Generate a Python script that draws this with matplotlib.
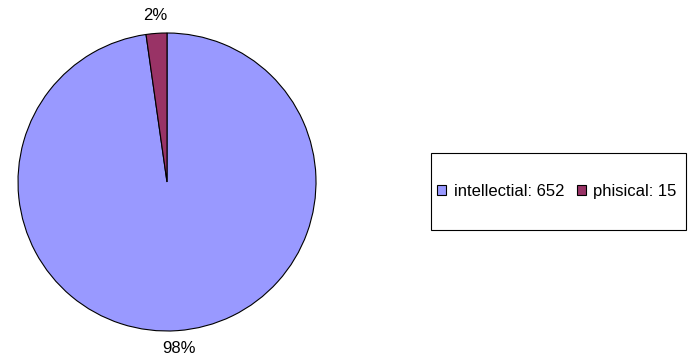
import matplotlib.pyplot as plt
from matplotlib.patches import Rectangle

labels = ['intellectial', 'phisical']
counts = [652, 15]
colors = ['#9999FF', '#993366']

plt.rcParams['font.family'] = ['Liberation Sans', 'DejaVu Sans']

W, H = 689, 359
fig = plt.figure(figsize=(W / 100, H / 100), dpi=100)

# pie axes: centre (167, 182) px, radius 149 px
cx, cy, r = 167, 182, 149
ax = fig.add_axes([(cx - r) / W, (H - cy - r) / H, 2 * r / W, 2 * r / H])
wedges, texts, autotexts = ax.pie(
    counts, colors=colors, startangle=90, counterclock=False,
    autopct='%1.0f%%', pctdistance=1.12, radius=1,
    wedgeprops=dict(edgecolor='black', linewidth=0.8),
    textprops=dict(fontsize=12, color='black'))
ax.set_xlim(-1, 1)
ax.set_ylim(-1, 1)
ax.set_aspect('equal')
ax.axis('off')

# legend frame
x0, x1, y0, y1 = 431, 686, 153, 230
fig.patches.append(Rectangle((x0 / W, (H - y1) / H), (x1 - x0) / W, (y1 - y0) / H,
                             transform=fig.transFigure, facecolor='white',
                             edgecolor='black', linewidth=0.8))
fig.legend(wedges, [f'{l}: {c}' for l, c in zip(labels, counts)],
           loc='center left', bbox_to_anchor=(437 / W, (H - (y0 + y1) / 2) / H),
           ncol=2, frameon=False, fontsize=12, handlelength=0.55, handleheight=0.55,
           handletextpad=0.45, columnspacing=0.75, borderpad=0, borderaxespad=0)

fig.savefig('out.png', dpi=100)
